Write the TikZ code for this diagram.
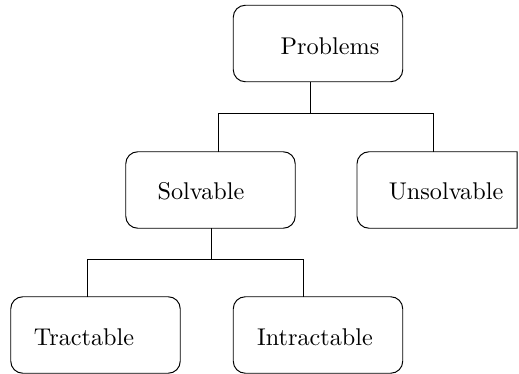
\documentclass[tikz,border=0pt]{standalone}
\begin{document}
\begin{tikzpicture}[x=0.413pt,y=-0.413pt,
  box/.style={draw, line width=0.4pt, rounded corners=5pt, inner sep=0pt, outer sep=0pt,
              minimum width=70pt, minimum height=31.6pt},
  plainbox/.style={inner sep=0pt, outer sep=0pt, minimum width=66.1pt, minimum height=31.6pt},
  lbl/.style={inner sep=0pt, anchor=base, font=\normalsize},
  wire/.style={line width=0.4pt}]
\useasboundingbox (0,0) rectangle (519,374);

% boxes
\node[box] (pbox) at (318,43.5) {};
\node[box] (sbox) at (210.5,190) {};
\node[plainbox] (ubox) at (437,190) {};
\node[box] (tbox) at (95.5,335) {};
\node[box] (ibox) at (318,335) {};
\draw[line width=0.4pt] (ubox.south east) -- (ubox.north east)
  [rounded corners=5pt] -- (ubox.north west) -- (ubox.south west)
  [sharp corners] -- (ubox.south east) -- cycle;

% labels
\node[lbl] (ptxt) at (330,55) {Problems};
\node[lbl] (stxt) at (201,200) {Solvable};
\node[lbl] (utxt) at (446,200) {Unsolvable};
\node[lbl] (ttxt) at (84,345) {Tractable};
\node[lbl] (itxt) at (315,345) {Intractable};

% tree connectors
\coordinate (pj) at (310,113);
\coordinate (pl) at (218,113);
\coordinate (pr) at (433,113);
\draw[wire] (pbox.south -| pj) -- (pj);
\draw[wire] (pl |- sbox.north) -- (pl) -- (pr) -- (pr |- ubox.north);

\coordinate (sj) at (211,259);
\coordinate (sl) at (87,259);
\coordinate (sr) at (303,259);
\draw[wire] (sbox.south -| sj) -- (sj);
\draw[wire] (sl |- tbox.north) -- (sl) -- (sr) -- (sr |- ibox.north);
\end{tikzpicture}
\end{document}
